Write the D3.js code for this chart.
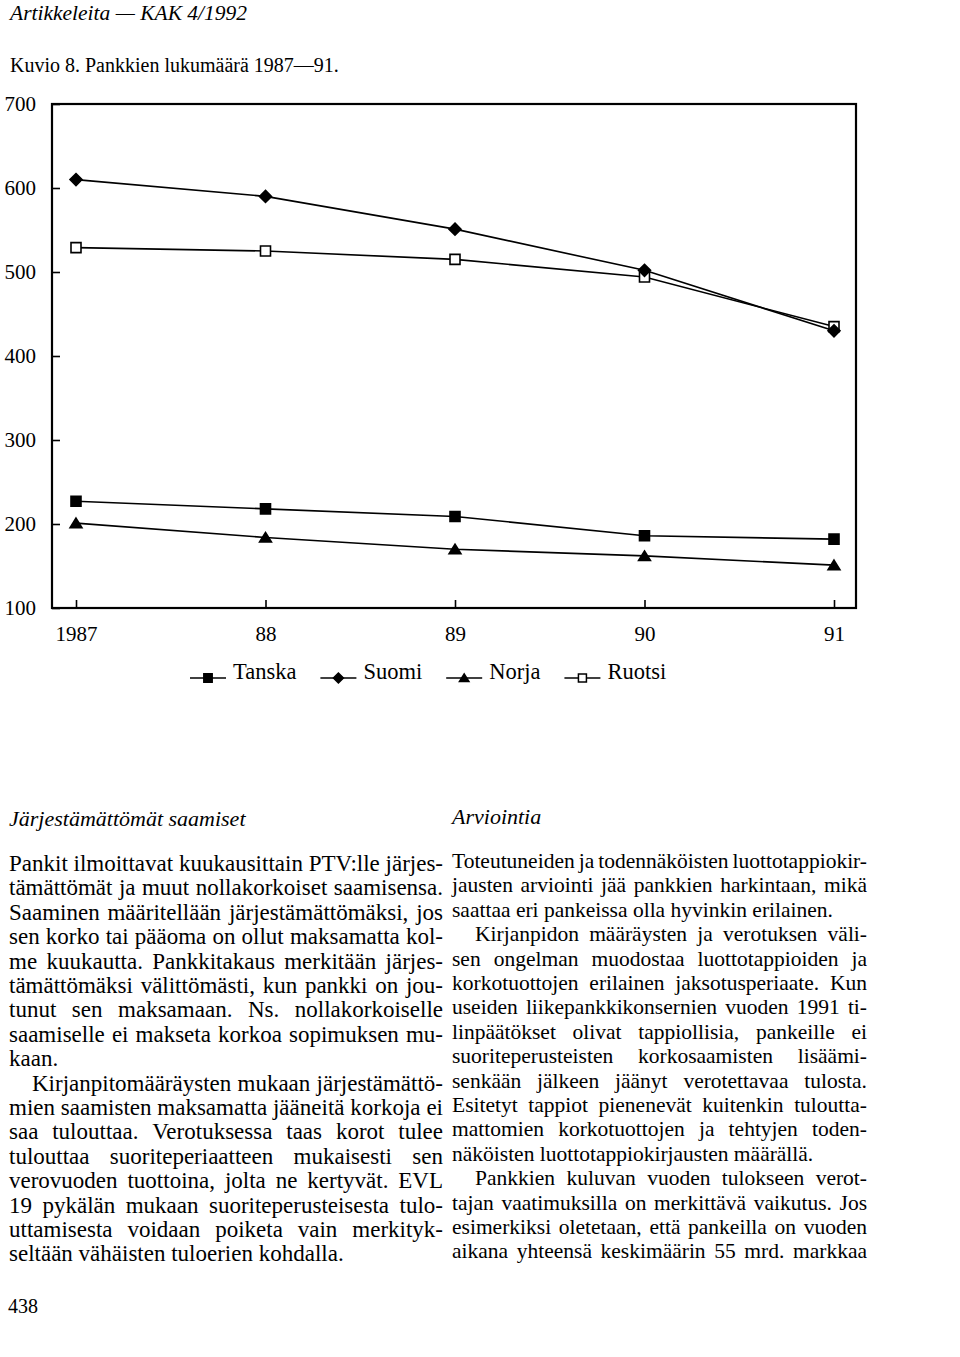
<!DOCTYPE html>
<html>
<head>
<meta charset="utf-8">
<script src="https://cdn.jsdelivr.net/npm/d3@7"></script>
<style>
  html, body { margin: 0; padding: 0; background: #fff; }
  svg { display: block; }
  text { font-family: "Liberation Serif", "Times New Roman", serif; fill: #000; }
</style>
</head>
<body>
<svg id="page" width="960" height="1357"></svg>
<script>
// ---------------- data ----------------
const years = [1987, 1988, 1989, 1990, 1991];
const xTickLabels = ["1987", "88", "89", "90", "91"];
const yTickValues = [100, 200, 300, 400, 500, 600, 700];

const seriesNames = ["Tanska", "Suomi", "Norja", "Ruotsi"];
const tanska = [227, 218, 209, 186, 182];
const suomi  = [610, 590, 551, 502, 430];
const norja  = [201, 184, 170, 162, 151];
const ruotsi = [529, 525, 515, 494, 435];

const pageHeader = "Artikkeleita — KAK 4/1992";
const figureTitle = "Kuvio 8. Pankkien lukumäärä 1987—91.";
const pageNumber = "438";

const leftHeading = "Järjestämättömät saamiset";
const leftParagraphs = [
  ["Pankit ilmoittavat kuukausittain PTV:lle järjes-",
   "tämättömät ja muut nollakorkoiset saamisensa.",
   "Saaminen määritellään järjestämättömäksi, jos",
   "sen korko tai pääoma on ollut maksamatta kol-",
   "me kuukautta. Pankkitakaus merkitään järjes-",
   "tämättömäksi välittömästi, kun pankki on jou-",
   "tunut sen maksamaan. Ns. nollakorkoiselle",
   "saamiselle ei makseta korkoa sopimuksen mu-",
   "kaan."],
  ["Kirjanpitomääräysten mukaan järjestämättö-",
   "mien saamisten maksamatta jääneitä korkoja ei",
   "saa tulouttaa. Verotuksessa taas korot tulee",
   "tulouttaa suoriteperiaatteen mukaisesti sen",
   "verovuoden tuottoina, jolta ne kertyvät. EVL",
   "19 pykälän mukaan suoriteperusteisesta tulo-",
   "uttamisesta voidaan poiketa vain merkityk-",
   "seltään vähäisten tuloerien kohdalla."]
];

const rightHeading = "Arviointia";
const rightParagraphs = [
  ["Toteutuneiden ja todennäköisten luottotappiokir-",
   "jausten arviointi jää pankkien harkintaan, mikä",
   "saattaa eri pankeissa olla hyvinkin erilainen."],
  ["Kirjanpidon määräysten ja verotuksen väli-",
   "sen ongelman muodostaa luottotappioiden ja",
   "korkotuottojen erilainen jaksotusperiaate. Kun",
   "useiden liikepankkikonsernien vuoden 1991 ti-",
   "linpäätökset olivat tappiollisia, pankeille ei",
   "suoriteperusteisten korkosaamisten lisäämi-",
   "senkään jälkeen jäänyt verotettavaa tulosta.",
   "Esitetyt tappiot pienenevät kuitenkin tuloutta-",
   "mattomien korkotuottojen ja tehtyjen toden-",
   "näköisten luottotappiokirjausten määrällä."],
  ["Pankkien kuluvan vuoden tulokseen verot-",
   "tajan vaatimuksilla on merkittävä vaikutus. Jos",
   "esimerkiksi oletetaan, että pankeilla on vuoden",
   "aikana yhteensä keskimäärin 55 mrd. markkaa"]
];

// ---------------- drawing ----------------
const svg = d3.select("#page");

// page header and figure title
svg.append("text").attr("x", 10).attr("y", 20)
  .style("font-style", "italic").style("font-size", "21.5px").text(pageHeader);
svg.append("text").attr("x", 10).attr("y", 72)
  .style("font-size", "20px").text(figureTitle);

// chart frame geometry
const frame = { left: 52, right: 856, top: 104, bottom: 608 };
const x = d3.scaleLinear().domain([1987, 1991]).range([76, 834]);
const y = d3.scaleLinear().domain([100, 700]).range([frame.bottom, frame.top]);

const chart = svg.append("g");

// y axis (ticks inward)
const yAxis = chart.append("g").attr("transform", `translate(${frame.left},0)`)
  .call(d3.axisLeft(y).tickValues(yTickValues).tickSize(-8).tickPadding(16).tickFormat(d3.format("d")));
yAxis.select(".domain").remove();
yAxis.selectAll(".tick line").attr("stroke", "#000").attr("stroke-width", 1.6);
yAxis.selectAll(".tick text").style("font-size", "21px")
  .style("font-family", '"Liberation Serif", "Times New Roman", serif').attr("fill", "#000");

// x axis (ticks inward)
const xAxis = chart.append("g").attr("transform", `translate(0,${frame.bottom})`)
  .call(d3.axisBottom(x).tickValues(years).tickSize(-8).tickPadding(18)
    .tickFormat((d, i) => xTickLabels[i]));
xAxis.select(".domain").remove();
xAxis.selectAll(".tick line").attr("stroke", "#000").attr("stroke-width", 1.6);
xAxis.selectAll(".tick text").style("font-size", "21px")
  .style("font-family", '"Liberation Serif", "Times New Roman", serif').attr("fill", "#000");

// frame box
chart.append("rect")
  .attr("x", frame.left).attr("y", frame.top)
  .attr("width", frame.right - frame.left).attr("height", frame.bottom - frame.top)
  .attr("fill", "none").attr("stroke", "#000").attr("stroke-width", 2.2);

// marker shapes
const diamond = { draw(ctx, size) { const r = Math.sqrt(size) / 2;
  ctx.moveTo(0, -r); ctx.lineTo(r, 0); ctx.lineTo(0, r); ctx.lineTo(-r, 0); ctx.closePath(); } };
const square = { draw(ctx, size) { const r = Math.sqrt(size) / 2;
  ctx.moveTo(-r, -r); ctx.lineTo(r, -r); ctx.lineTo(r, r); ctx.lineTo(-r, r); ctx.closePath(); } };
const triangle = { draw(ctx, size) { const r = Math.sqrt(size) / 2;
  ctx.moveTo(0, -r * 0.85); ctx.lineTo(r, r * 0.75); ctx.lineTo(-r, r * 0.75); ctx.closePath(); } };

const series = [
  { name: "Tanska", values: tanska, shape: square,   fill: "#000", size: 100, lsize: 70 },
  { name: "Norja",  values: norja,  shape: triangle, fill: "#000", size: 140, lsize: 90 },
  { name: "Ruotsi", values: ruotsi, shape: square,   fill: "#fff", size: 100, lsize: 64 },
  { name: "Suomi",  values: suomi,  shape: diamond,  fill: "#000", size: 144, lsize: 100 }
];

const line = d3.line().x((d, i) => x(years[i])).y(d => y(d));

series.forEach(s => {
  chart.append("path").datum(s.values)
    .attr("d", line).attr("fill", "none")
    .attr("stroke", "#000").attr("stroke-width", 1.6);
});
series.forEach(s => {
  chart.selectAll(null).data(s.values).enter().append("path")
    .attr("transform", (d, i) => `translate(${x(years[i])},${y(d)})`)
    .attr("d", d3.symbol().type(s.shape).size(s.size)())
    .attr("fill", s.fill).attr("stroke", "#000").attr("stroke-width", 1.6);
});

// legend
const legend = svg.append("g");
const legendY = 678;
let lx = 190;
seriesNames.forEach(name => {
  const s = series.find(d => d.name === name);
  const g = legend.append("g");
  g.append("line").attr("x1", lx).attr("x2", lx + 36).attr("y1", legendY).attr("y2", legendY)
    .attr("stroke", "#000").attr("stroke-width", 1.5);
  g.append("path").attr("transform", `translate(${lx + 18},${legendY})`)
    .attr("d", d3.symbol().type(s.shape).size(s.lsize)())
    .attr("fill", s.fill).attr("stroke", "#000").attr("stroke-width", 1.5);
  const t = g.append("text").attr("x", lx + 43).attr("y", legendY + 1)
    .style("font-size", "22.5px").text(name);
  lx = lx + 43 + t.node().getComputedTextLength() + 24;
});

// ---------------- body text columns ----------------
function drawColumn(heading, paragraphs, opts) {
  const g = svg.append("g");
  g.append("text").attr("x", opts.x0).attr("y", opts.headY)
    .style("font-style", "italic").style("font-size", "22px").text(heading);
  let row = 0;
  paragraphs.forEach((para, pi) => {
    para.forEach((ln, li) => {
      const isLast = li === para.length - 1 && !(opts.continues && pi === paragraphs.length - 1);
      const indent = (pi > 0 && li === 0) ? opts.indent : 0;
      const yy = opts.y0 + row * opts.step;
      const words = ln.split(" ");
      const t = g.append("text").attr("y", yy).style("font-size", opts.fontSize + "px");
      const spans = words.map(w => t.append("tspan").text(w));
      const widths = spans.map(sp => sp.node().getComputedTextLength());
      const total = widths.reduce((a, b) => a + b, 0);
      const avail = opts.x1 - opts.x0 - indent;
      let gap = opts.fontSize * 0.25;
      if (!isLast && words.length > 1) gap = (avail - total) / (words.length - 1);
      let cx = opts.x0 + indent;
      spans.forEach((sp, k) => { sp.attr("x", cx); cx += widths[k] + gap; });
      row++;
    });
  });
}

drawColumn(leftHeading, leftParagraphs,
  { x0: 9, x1: 443, headY: 826, y0: 871, step: 24.4, fontSize: 23, indent: 23, continues: false });
drawColumn(rightHeading, rightParagraphs,
  { x0: 452, x1: 867, headY: 824, y0: 868, step: 24.4, fontSize: 21.5, indent: 23, continues: true });

// page number
svg.append("text").attr("x", 8).attr("y", 1313).style("font-size", "20px").text(pageNumber);
</script>
</body>
</html>
